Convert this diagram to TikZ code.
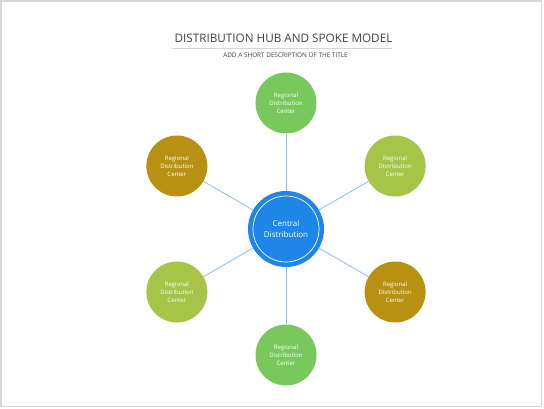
\documentclass[tikz,border=0pt]{standalone}
\usepackage{fontspec}
\setmainfont{Open Sans}
\usepackage{tikz}
\usetikzlibrary{positioning, calc}
\definecolor{hubblue}{RGB}{30, 134, 232}
\definecolor{spokeline}{RGB}{140, 190, 236}
\definecolor{rdcgreen}{RGB}{120, 200, 92}
\definecolor{rdclime}{RGB}{166, 196, 72}
\definecolor{rdcgold}{RGB}{184, 144, 18}
\definecolor{titlegray}{RGB}{64, 64, 64}
\definecolor{framegray}{RGB}{214, 214, 214}

\tikzset{
    rdc/.style={circle, minimum size=61pt, inner sep=0pt, text=white, align=center,
                font=\fontsize{6}{8}\selectfont},
    spoke/.style={draw=spokeline, line width=0.8pt}
}

\begin{document}
\begin{tikzpicture}[x=1pt, y=-1pt]
    \useasboundingbox (0,0) rectangle (544,409);
    \draw[framegray, line width=1.2pt] (1,1) rectangle (541.5,406.5);

    % title block
    \node[text=titlegray, font=\fontsize{11.7}{14}\selectfont] (title) at (283.5,38) {DISTRIBUTION HUB AND SPOKE MODEL};
    \draw[framegray, line width=0.8pt] (172,48) -- (392,48);
    \node[text=titlegray, font=\fontsize{6.4}{8}\selectfont] (subtitle) at (285.5,55.5) {ADD A SHORT DESCRIPTION OF THE TITLE};

    % hub
    \node[circle, fill=hubblue, minimum size=76pt, inner sep=0pt] (hub) at (286,229) {};
    \draw[white, line width=0.7pt] (hub.center) circle (33pt);
    \node[text=white, align=center, font=\fontsize{8}{11}\selectfont] (hubtext) at (hub.center) {Central\\Distribution};

    % spokes (y axis points down, so angles are mirrored)
    \node[rdc, fill=rdcgreen] (rdcN)  at ($(hub)+(-90:126)$) {Regional\\Distribution\\Center};
    \node[rdc, fill=rdclime]  (rdcNE) at ($(hub)+(-30:126)$) {Regional\\Distribution\\Center};
    \node[rdc, fill=rdcgold]  (rdcSE) at ($(hub)+(30:126)$)  {Regional\\Distribution\\Center};
    \node[rdc, fill=rdcgreen] (rdcS)  at ($(hub)+(90:126)$)  {Regional\\Distribution\\Center};
    \node[rdc, fill=rdclime]  (rdcSW) at ($(hub)+(150:126)$) {Regional\\Distribution\\Center};
    \node[rdc, fill=rdcgold]  (rdcNW) at ($(hub)+(210:126)$) {Regional\\Distribution\\Center};

    \draw[spoke] (hub) -- (rdcN);
    \draw[spoke] (hub) -- (rdcNE);
    \draw[spoke] (hub) -- (rdcSE);
    \draw[spoke] (hub) -- (rdcS);
    \draw[spoke] (hub) -- (rdcSW);
    \draw[spoke] (hub) -- (rdcNW);
\end{tikzpicture}
\end{document}
